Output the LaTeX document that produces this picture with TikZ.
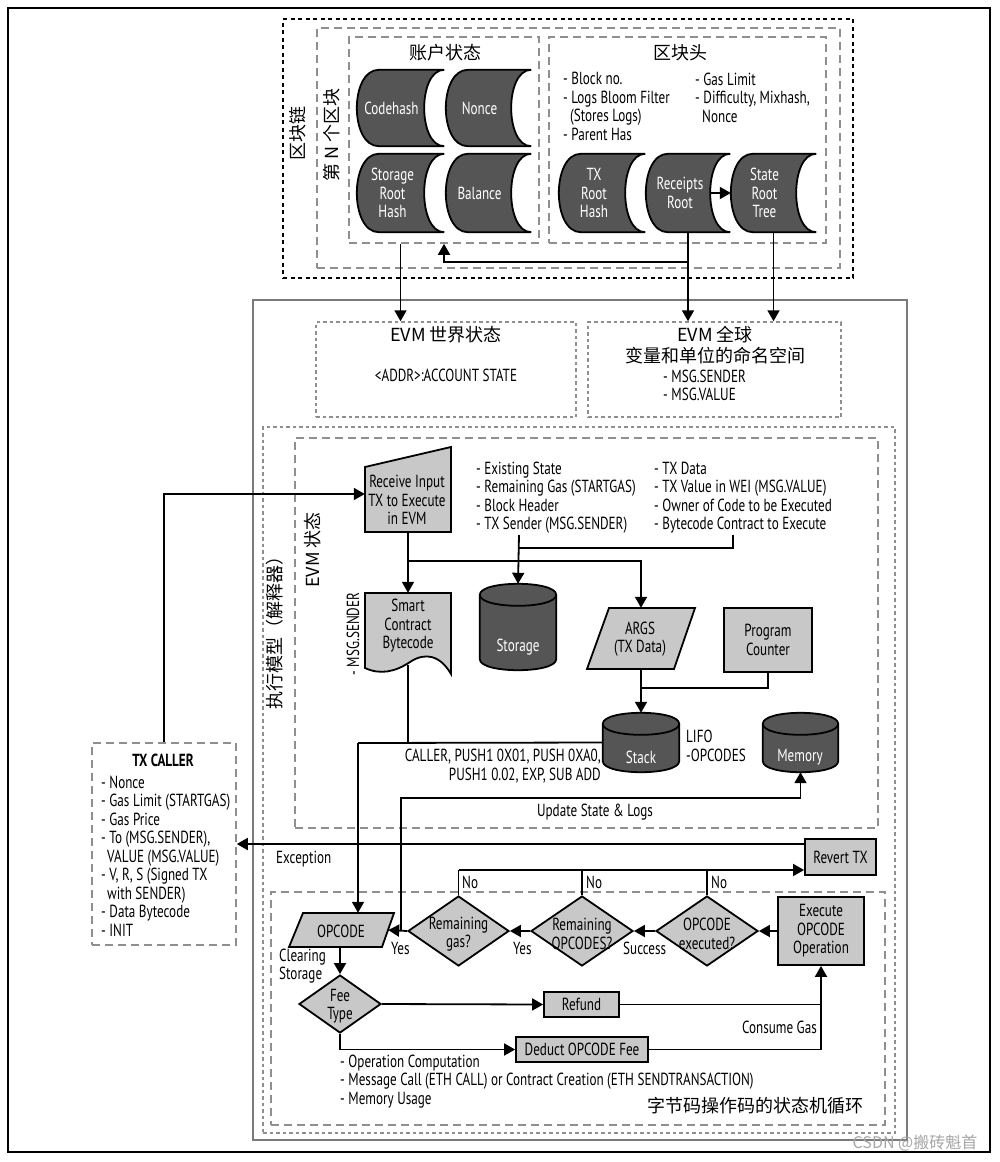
\documentclass[tikz,border=0pt]{standalone}
\usepackage{fontspec}
\setmainfont{PT Sans}[FakeStretch=0.75]
\newfontfamily\cjk{Noto Sans CJK SC}
\usetikzlibrary{arrows.meta,calc,backgrounds,shapes.geometric}
\definecolor{dk}{HTML}{555555}
\definecolor{lt}{HTML}{C8C8C8}
\definecolor{dgray}{HTML}{8F8F8F}
\definecolor{frame}{HTML}{7A7A7A}
\tikzset{
  every node/.style={inner sep=0pt, font=\fontsize{17.5}{18.5}\selectfont},
  ln/.style={line width=1.8pt, draw=black},
  arr/.style={ln, -{Triangle[length=11pt,width=12pt]}},
  gdash/.style={draw=dgray, line width=1.6pt, dash pattern=on 8pt off 5pt},
  gdot/.style={draw=dgray, line width=1.5pt, dash pattern=on 3.5pt off 3pt},
  bdot/.style={draw=black, line width=2.6pt, dash pattern=on 4pt off 3.5pt},
  wt/.style={text=white, align=center},
  ctr/.style={align=center},
  lst/.style={align=left, anchor=west},
  cj/.style={font=\cjk\fontsize{18}{22}\selectfont},
  ltbox/.style={draw=black, line width=1.8pt, fill=lt, align=center},
  ltshape/.style={draw=black, line width=1.8pt, fill=lt},
  dec/.style={diamond, draw=black, line width=1.8pt, fill=lt},
  blank/.style={draw=none, fill=none},
}
\newcommand\sdshape[1]{%
  \filldraw[fill=dk, draw=black, line width=1.8pt]
   ($(#1.north west)+(22,0)$) -- (#1.north east)
   .. controls ($(#1.north east)+(-26.7,0)$) and ($(#1.south east)+(-26.7,0)$) .. (#1.south east)
   -- ($(#1.south west)+(22,0)$)
   .. controls ($(#1.south west)+(-7.3,0)$) and ($(#1.north west)+(-7.3,0)$) .. cycle;}
\newcommand\cylshape[1]{%
  \filldraw[fill=dk, draw=black, line width=1.8pt]
   ($(#1.north west)+(0,11)$) -- ($(#1.south west)+(0,-11)$)
   .. controls ($(#1.south west)+(0,3.67)$) and ($(#1.south east)+(0,3.67)$) .. ($(#1.south east)+(0,-11)$)
   -- ($(#1.north east)+(0,11)$)
   .. controls ($(#1.north east)+(0,-3.67)$) and ($(#1.north west)+(0,-3.67)$) .. cycle;
  \draw[line width=1.8pt] ($(#1.north west)+(0,11)$) .. controls ($(#1.north west)+(0,25.67)$) and ($(#1.north east)+(0,25.67)$) .. ($(#1.north east)+(0,11)$);}
\begin{document}
\begin{tikzpicture}[x=1pt,y=-1pt]
\useasboundingbox (0,0) rectangle (1000,1162);
\draw[line width=1.2pt] (8,8) rectangle (990,1152);

% ---------------- block chain area
\node[bdot, minimum width=570, minimum height=259] (chain) at (568,148.5) {};
\node[gdash, minimum width=523, minimum height=240] (blockn) at (578.5,148) {};
\node[gdash, minimum width=190, minimum height=206] (acct) at (444,140) {};
\node[gdash, minimum width=277, minimum height=206] (hdr) at (687.5,140) {};
\node[cj, rotate=90] (l-chain) at (298,133) {区块链};
\node[cj, rotate=90] (l-block) at (332,135) {第 N 个区块};
\node[cj] (l-acct) at (445,53) {账户状态};
\node[cj] (l-hdr) at (680,53) {区块头};

\node[blank, minimum width=87, minimum height=76] (codehash) at (400.5,108) {};
\node[blank, minimum width=85, minimum height=76] (nonce) at (488.5,108) {};
\node[blank, minimum width=87, minimum height=78] (storageroot) at (400.5,193) {};
\node[blank, minimum width=85, minimum height=78] (balance) at (488.5,193) {};
\node[blank, minimum width=86, minimum height=78] (txroot) at (602,193) {};
\node[blank, minimum width=84, minimum height=78] (receipts) at (688,193) {};
\node[blank, minimum width=85, minimum height=78] (stateroot) at (773.5,193) {};

\node[lst] (hdr-l1) at (563,106.5) {- Block no.\\- Logs Bloom Filter\\\hspace{7pt}(Stores Logs)\\- Parent Has};
\node[lst] (hdr-l2) at (695,97.5) {- Gas Limit\\- Difficulty, Mixhash,\\\hspace{7pt}Nonce};

% ---------------- EVM outer
\draw[draw=frame, line width=1.6pt] (253,300) rectangle (907,1140);
\node[gdot, minimum width=260, minimum height=95] (world) at (446,369.5) {};
\node[gdot, minimum width=253, minimum height=95] (global) at (714.5,369.5) {};
\node[cj] (world-t) at (446,335) {EVM 世界状态};
\node (world-s) at (446,375) {<ADDR>:ACCOUNT STATE};
\node[cj, align=center, font=\cjk\fontsize{18}{20.5}\selectfont] (global-t) at (715,345) {EVM 全球\\变量和单位的命名空间};
\node[lst] (global-l) at (663,385.5) {- MSG.SENDER\\- MSG.VALUE};

\node[gdot, minimum width=632, minimum height=706] (execm) at (579,780) {};
\node[gdash, minimum width=583, minimum height=390] (evmst) at (586.5,633) {};
\node[gdash, minimum width=614, minimum height=233] (loop) at (578,1008.5) {};
\node[cj, rotate=90] (l-exec) at (275,628) {执行模型（解释器）};
\node[cj, rotate=90] (l-evm) at (313,550) {EVM 状态};
\node[rotate=90] (l-msg) at (353,634) {- MSG.SENDER};

% receive / contract
\node[blank, minimum width=86, minimum height=76] (recv) at (408,494) {};
\node[ctr] (recv-t) at (407,500) {Receive Input\\TX to Execute\\in EVM};
\node[blank, minimum width=85, minimum height=72] (sc) at (408,629) {};
\node[ctr] (sc-t) at (408,626) {Smart\\Contract\\Bytecode};

\node[lst] (info1) at (476,497.5) {- Existing State\\- Remaining Gas (STARTGAS)\\- Block Header\\- TX Sender (MSG.SENDER)};
\node[lst] (info2) at (654,497.5) {- TX Data\\- TX Value in WEI (MSG.VALUE)\\- Owner of Code to be Executed\\- Bytecode Contract to Execute};

\node[blank, minimum width=76, minimum height=86] (storage) at (518,627) {};
\node[text=white] (storage-t) at (518,647) {Storage};
\node[blank, minimum width=108, minimum height=61] (args) at (641,638.5) {};
\node[ctr] (args-t) at (640,639) {ARGS\\(TX Data)};
\node[ltbox, minimum width=88, minimum height=64] (pc) at (768,640) {Program\\Counter};
\node[blank, minimum width=76, minimum height=59] (stack) at (641,742.5) {};
\node[text=white] (stack-t) at (641,757) {Stack};
\node[blank, minimum width=75, minimum height=59] (mem) at (800.5,742.5) {};
\node[text=white] (mem-t) at (800,757) {Memory};
\node[lst] (lifo) at (686,746) {LIFO\\-OPCODES};
\node[align=right, anchor=east] (caller) at (601,766) {CALLER, PUSH1 0X01, PUSH 0XA0,\\PUSH1 0.02, EXP, SUB ADD};
\node (upd) at (595,812) {Update State \& Logs};

% TX caller
\node[gdash, minimum width=144, minimum height=202] (txc) at (164,844) {};
\node[font=\fontsize{17.5}{18.5}\selectfont\bfseries] (txc-t) at (163,760) {TX CALLER};
\node[lst] (txc-l) at (101,856) {- Nonce\\- Gas Limit (STARTGAS)\\- Gas Price\\- To (MSG.SENDER),\\\hspace{6pt}VALUE (MSG.VALUE)\\- V, R, S (Signed TX\\\hspace{6pt}with SENDER)\\- Data Bytecode\\- INIT};

% loop
\node[ltbox, minimum width=71, minimum height=36] (revert) at (840.5,857) {Revert TX};
\node[lst] (exc) at (276,859) {Exception};
\node[dec, minimum width=101, minimum height=70] (rg) at (458.5,931) {};
\node[ctr] (rg-t) at (458.5,934) {Remaining\\gas?};
\node[dec, minimum width=102, minimum height=70] (ro) at (582,931) {};
\node[ctr] (ro-t) at (582,934) {Remaining\\OPCODES?};
\node[dec, minimum width=102, minimum height=70] (oe) at (707,931) {};
\node[ctr] (oe-t) at (707,934) {OPCODE\\executed?};
\node[ltbox, minimum width=86, minimum height=68] (exec) at (821,931) {Execute\\OPCODE\\Operation};
\node[blank, minimum width=96, minimum height=34] (opc) at (340,930) {};
\node (opc-t) at (341,931) {OPCODE};
\node[lst] (yes1) at (391,948) {Yes};
\node[lst] (yes2) at (513,948) {Yes};
\node[lst] (succ) at (623,948) {Success};
\node[lst] (no1) at (462,882) {No};
\node[lst] (no2) at (586,882) {No};
\node[lst] (no3) at (711,882) {No};
\node[lst] (clear) at (279,966) {Clearing\\Storage};
\node[dec, minimum width=82, minimum height=58] (fee) at (340,1004) {};
\node[ctr] (fee-t) at (340,1006) {Fee\\Type};
\node[ltbox, minimum width=75, minimum height=25] (refund) at (581.5,1004.5) {Refund};
\node[ltbox, minimum width=132, minimum height=25] (deduct) at (582,1049.5) {Deduct OPCODE Fee};
\node[anchor=east] (cgas) at (817,1027) {Consume Gas};
\node[lst] (feel) at (340,1081.5) {- Operation Computation\\- Message Call (ETH CALL) or Contract Creation (ETH SENDTRANSACTION)\\- Memory Usage};
\node[cj, anchor=east] (l-loop) at (864,1106) {字节码操作码的状态机循环};
\node[font=\cjk\fontsize{16}{18}\selectfont, text=black!35] (wm) at (915,1143) {CSDN @搬砖魁首};

% ---------------- shapes on background
\begin{scope}[on background layer]
\fill[white] (0,0) rectangle (1000,1162);
\sdshape{codehash}\sdshape{nonce}\sdshape{storageroot}\sdshape{balance}
\sdshape{txroot}\sdshape{receipts}\sdshape{stateroot}
\cylshape{storage}\cylshape{stack}\cylshape{mem}
\filldraw[ltshape] (365,467) -- (451,447) -- (451,532) -- (365,532) -- cycle;
\filldraw[ltshape] (365,593) -- (451,593) -- (451,674) .. controls (440,655) and (425,652) .. (410,662) .. controls (395,672) and (380,675) .. (365,668) -- cycle;
\filldraw[ltshape] (609,608) -- (695,608) -- (674,669) -- (587,669) -- cycle;
\filldraw[ltshape] (303,913) -- (394,913) -- (382,947) -- (289,947) -- cycle;
\end{scope}
\node[wt] (codehash-t) at ($(codehash)+(-9,0)$) {Codehash};
\node[wt] (nonce-t) at ($(nonce)+(-9,0)$) {Nonce};
\node[wt] (storageroot-t) at ($(storageroot)+(-8,0)$) {Storage\\Root\\Hash};
\node[wt] (balance-t) at ($(balance)+(-9,0)$) {Balance};
\node[wt] (txroot-t) at ($(txroot)+(-8,0)$) {TX\\Root\\Hash};
\node[wt] (receipts-t) at ($(receipts)+(-8,0)$) {Receipts\\Root};
\node[wt] (stateroot-t) at ($(stateroot)+(-9,0)$) {State\\Root\\Tree};

% ---------------- connectors
\draw[arr] (storageroot |- acct.south) -- (storageroot |- world.north);
\draw[arr] (receipts.south) -- (receipts |- global.north);
\draw[arr] (stateroot.south) -- (stateroot |- global.north);
\coordinate (rj) at (688,262);
\draw[arr] (rj) -| (acct.south);
\draw[arr] ($(receipts.east)+(-20,0)$) -- (stateroot.west);

\draw[arr] (txc.north) |- (recv.west);
\draw[arr] (recv.south) -- (sc.north);
\coordinate (rb) at (408,561);
\draw[arr] (rb) -| (args.north);
\coordinate (i1) at (519,535);
\coordinate (i2) at (733,535);
\coordinate (i3) at (519,548);
\draw[ln] (i2) |- (i3);
\draw[arr] (i1) -- (storage.north);
\draw[arr] (args.south) -- (stack.north);
\coordinate (pj) at (641,688);
\draw[ln] (pc.south) |- (pj);
\coordinate (c1) at (358,743);
\draw[ln] (stack.west) -- (c1);
\draw[ln] (sc.south) -- (sc.south |- c1);
\draw[arr] (c1) -- (c1 |- opc.north);
\coordinate (u1) at (401,931);
\coordinate (u2) at (401,798);
\draw[arr] (u1) -- (u2) -| (mem.south);

\draw[arr] (revert.west |- txc.east) -- (txc.east);
\draw[arr] (exec.west) -- (oe.east);
\draw[arr] (oe.west) -- (ro.east);
\draw[arr] (ro.west) -- (rg.east);
\draw[arr] (rg.west) -- (opc.east);
\coordinate (nA) at (458.5,870);
\draw[ln] (rg.north) -- (nA);
\draw[arr] (nA) -- (revert.west |- nA);
\draw[ln] (ro.north) -- (ro.north |- nA);
\draw[ln] (oe.north) -- (oe.north |- nA);
\draw[arr] (opc.south) -- (fee.north);
\draw[arr] (fee.east) -- (refund.west);
\draw[ln] (refund.east) -- (refund.east -| exec.south);
\draw[arr] (fee.south) |- (deduct.west);
\draw[arr] (deduct.east) -| (exec.south);
\end{tikzpicture}
\end{document}
